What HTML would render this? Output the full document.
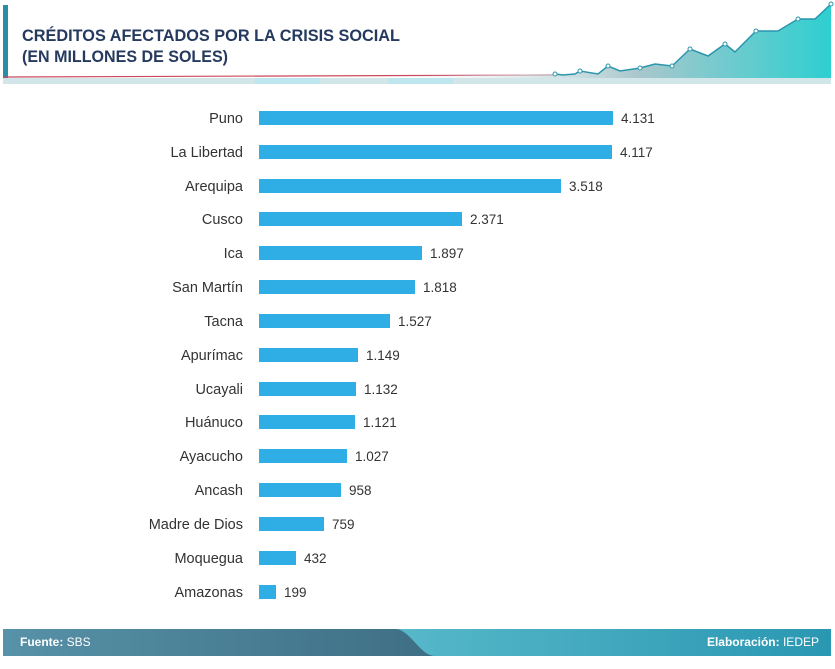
<!DOCTYPE html>
<html><head><meta charset="utf-8"><style>
body{margin:0;width:835px;height:664px;background:#fff;overflow:hidden;font-family:"Liberation Sans",sans-serif}
</style></head><body>
<svg width="835" height="664" xmlns="http://www.w3.org/2000/svg">
<defs>
<linearGradient id="hg" x1="0" x2="1"><stop offset="0" stop-color="#ffffff" stop-opacity="0"/><stop offset="0.6" stop-color="#a9c7cc"/><stop offset="1" stop-color="#2ecfd0"/></linearGradient>
<linearGradient id="fl" x1="0" x2="1"><stop offset="0" stop-color="#5792a8"/><stop offset="1" stop-color="#3e6e84"/></linearGradient>
<linearGradient id="fr" x1="0" x2="1"><stop offset="0" stop-color="#7fd6de"/><stop offset="1" stop-color="#2a97b2"/></linearGradient>
</defs>
<rect x="3" y="5" width="5" height="73" fill="#2a8fa6"/>
<rect x="3" y="78" width="828" height="6" fill="#d2e6ea"/>
<rect x="255" y="78" width="65" height="6" fill="#bde6ee"/>
<rect x="388" y="78" width="65" height="6" fill="#bde6ee"/>
<line x1="3" y1="77" x2="555" y2="75" stroke="#c9485b" stroke-width="1.2"/>
<path d="M350 77 L555 74 L563 75 L575 74 L580 71 L598 74 L608 66 L620 71 L640 68 L655 64 L672 66 L690 49 L708 56 L725 44 L735 52 L756 31 L778 31 L798 19 L815 19 L831 4 L831 78 L350 78 Z" fill="url(#hg)"/>
<polyline points="555,74 563,75 575,74 580,71 598,74 608,66 620,71 640,68 655,64 672,66 690,49 708,56 725,44 735,52 756,31 778,31 798,19 815,19 831,4" fill="none" stroke="#2a96ad" stroke-width="1.5"/>
<g fill="#fff" stroke="#2a96ad" stroke-width="1"><circle cx="555" cy="74" r="2"/><circle cx="580" cy="71" r="2"/><circle cx="608" cy="66" r="2"/><circle cx="640" cy="68" r="2"/><circle cx="672" cy="66" r="2"/><circle cx="690" cy="49" r="2"/><circle cx="725" cy="44" r="2"/><circle cx="756" cy="31" r="2"/><circle cx="798" cy="19" r="2"/><circle cx="831" cy="4" r="2"/></g>
<text x="22" y="41" font-size="16.5" font-weight="bold" fill="#253a5e" textLength="378" lengthAdjust="spacingAndGlyphs">CRÉDITOS AFECTADOS POR LA CRISIS SOCIAL</text>
<text x="22" y="62" font-size="16.5" font-weight="bold" fill="#253a5e" textLength="206" lengthAdjust="spacingAndGlyphs">(EN MILLONES DE SOLES)</text>
<g font-size="14.5" fill="#333">
<g text-anchor="end">
<text x="243" y="123">Puno</text><text x="243" y="157">La Libertad</text><text x="243" y="191">Arequipa</text><text x="243" y="224">Cusco</text><text x="243" y="258">Ica</text><text x="243" y="292">San Martín</text><text x="243" y="326">Tacna</text><text x="243" y="360">Apurímac</text><text x="243" y="394">Ucayali</text><text x="243" y="427">Huánuco</text><text x="243" y="461">Ayacucho</text><text x="243" y="495">Ancash</text><text x="243" y="529">Madre de Dios</text><text x="243" y="563">Moquegua</text><text x="243" y="597">Amazonas</text>
</g>
<g fill="#2eaee4">
<rect x="259" y="111" width="354" height="14"/><rect x="259" y="145" width="353" height="14"/><rect x="259" y="179" width="302" height="14"/><rect x="259" y="212" width="203" height="14"/><rect x="259" y="246" width="163" height="14"/><rect x="259" y="280" width="156" height="14"/><rect x="259" y="314" width="131" height="14"/><rect x="259" y="348" width="99" height="14"/><rect x="259" y="382" width="97" height="14"/><rect x="259" y="415" width="96" height="14"/><rect x="259" y="449" width="88" height="14"/><rect x="259" y="483" width="82" height="14"/><rect x="259" y="517" width="65" height="14"/><rect x="259" y="551" width="37" height="14"/><rect x="259" y="585" width="17" height="14"/>
</g>
<g font-size="13.5">
<text x="621" y="123">4.131</text><text x="620" y="157">4.117</text><text x="569" y="191">3.518</text><text x="470" y="224">2.371</text><text x="430" y="258">1.897</text><text x="423" y="292">1.818</text><text x="398" y="326">1.527</text><text x="366" y="360">1.149</text><text x="364" y="394">1.132</text><text x="363" y="427">1.121</text><text x="355" y="461">1.027</text><text x="349" y="495">958</text><text x="332" y="529">759</text><text x="304" y="563">432</text><text x="284" y="597">199</text>
</g>
</g>
<rect x="3" y="629" width="828" height="27" fill="url(#fr)"/>
<path d="M3 629 L395 629 C410 629 420 656 435 656 L3 656 Z" fill="url(#fl)"/>
<text x="20" y="646" font-size="12" fill="#fff"><tspan font-weight="bold">Fuente:</tspan> SBS</text>
<text x="819" y="646" font-size="12" fill="#fff" text-anchor="end"><tspan font-weight="bold">Elaboración:</tspan> IEDEP</text>
</svg>
</body></html>
